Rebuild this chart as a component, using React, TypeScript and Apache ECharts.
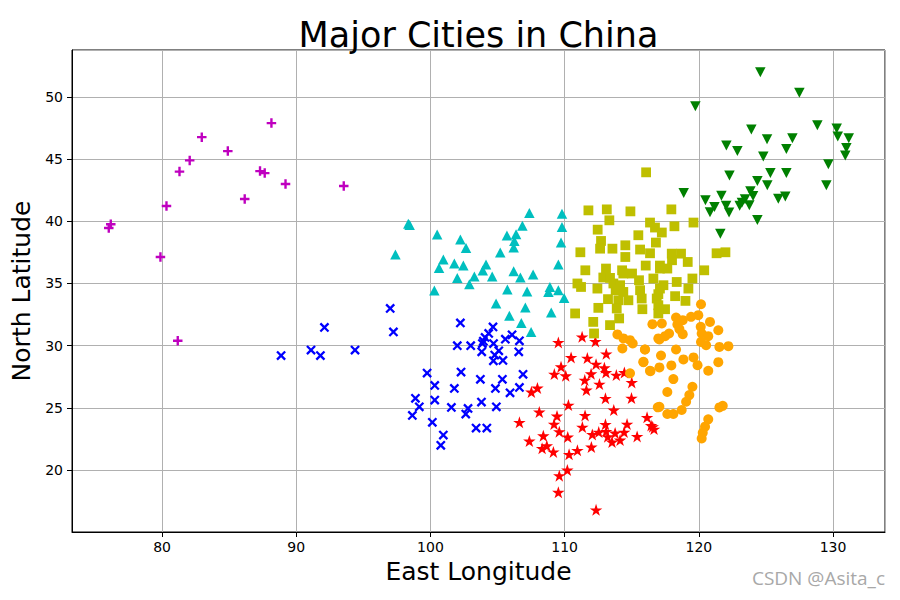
import { useEffect, useRef } from "react";
import * as echarts from "echarts";

const titleText = "Major Cities in China";
const xName = "East Longitude";
const yName = "North Latitude";
const watermark = "CSDN @Asita_c";

// magenta "+" (north-west)
const groupPlus: number[][] = [
  [88.15, 47.9], [82.96, 46.77], [84.9, 45.65], [82.06, 44.9], [81.3, 44.0],
  [87.3, 44.04], [87.65, 43.88], [89.2, 43.0], [93.54, 42.84], [86.16, 41.8],
  [80.33, 41.23], [76.18, 39.76], [76.03, 39.46], [79.88, 37.13], [81.17, 30.39],
];

// cyan triangles up
const groupTriUp: number[][] = [
  [98.35, 39.8], [98.45, 39.7], [97.39, 37.33], [100.5, 38.93], [102.23, 38.53],
  [102.65, 37.86], [100.96, 36.93], [100.64, 36.25], [101.78, 36.6], [102.45, 36.44],
  [102.0, 35.45], [102.9, 34.94], [103.27, 35.56], [104.14, 36.52], [103.9, 36.04],
  [104.6, 35.56], [105.2, 37.49], [105.7, 38.85], [106.38, 38.96], [106.25, 38.42],
  [106.2, 37.89], [106.85, 39.65], [107.37, 40.67], [109.8, 40.6], [109.8, 39.54],
  [109.73, 38.29], [109.53, 36.52], [106.2, 35.98], [106.7, 35.48], [107.65, 35.72],
  [100.29, 34.43], [105.73, 34.51], [107.2, 34.35], [108.9, 34.72], [108.79, 34.32],
  [109.53, 34.46], [109.96, 33.84], [104.89, 33.39], [107.07, 33.07], [109.0, 32.67],
  [105.88, 32.4], [106.77, 31.83], [107.5, 31.1],
];

// blue "x" (south-west)
const groupCross: number[][] = [
  [92.1, 31.46], [88.87, 29.2], [91.1, 29.64], [91.8, 29.2], [94.38, 29.64],
  [97.0, 32.99], [97.24, 31.1], [102.23, 31.83], [104.66, 31.5], [104.34, 30.98],
  [104.07, 30.66], [103.94, 30.36], [102.0, 30.0], [103.0, 30.0], [103.87, 30.17],
  [104.7, 30.17], [105.58, 30.52], [106.08, 30.87], [106.63, 30.39], [106.58, 29.5],
  [103.82, 29.5], [105.09, 29.58], [104.79, 29.24], [104.69, 28.78], [105.4, 28.81],
  [99.75, 27.79], [102.28, 27.87], [106.9, 27.69], [103.72, 27.29], [105.36, 27.29],
  [100.32, 26.8], [101.78, 26.56], [104.84, 26.56], [106.63, 26.64], [105.93, 26.21],
  [98.88, 25.76], [100.32, 25.62], [103.8, 25.46], [99.17, 25.08], [101.56, 25.03],
  [102.8, 24.95], [104.91, 25.08], [102.63, 24.5], [98.65, 24.39], [100.14, 23.83],
  [103.4, 23.37], [104.2, 23.37], [100.96, 22.81], [100.77, 21.98],
];

// red stars (south)
const groupStar: number[][] = [
  [111.3, 30.71], [112.29, 30.34], [109.53, 30.26], [110.48, 29.05], [111.69, 29.0],
  [113.1, 29.34], [112.34, 28.51], [112.96, 28.22], [113.08, 27.84], [113.85, 27.63],
  [114.45, 27.84], [109.73, 28.3], [109.23, 27.71], [110.08, 27.58], [111.97, 27.74],
  [111.5, 27.23], [112.59, 26.91], [115.0, 27.04], [111.62, 26.43], [107.97, 26.59],
  [107.52, 26.27], [113.04, 25.76], [114.98, 25.78], [110.28, 25.22], [108.11, 24.66],
  [109.43, 24.34], [111.52, 24.39], [113.66, 24.82], [116.14, 24.23], [114.65, 23.69],
  [116.44, 23.58], [116.66, 23.29], [106.63, 23.83], [109.21, 23.69], [109.6, 23.08],
  [111.32, 23.45], [108.41, 22.75], [110.23, 22.65], [112.06, 22.86], [112.54, 23.05],
  [113.04, 23.67], [113.09, 23.1], [113.21, 22.68], [113.53, 22.25], [113.76, 22.97],
  [114.13, 22.41], [114.43, 23.05], [115.4, 22.7], [107.37, 22.33], [108.67, 21.95],
  [108.32, 21.74], [109.16, 21.45], [110.95, 21.58], [110.33, 21.26], [111.99, 21.85],
  [110.2, 20.0], [109.6, 19.54], [109.53, 18.21], [112.34, 16.79], [116.56, 23.48],
];

// olive squares (north)
const groupSquare: number[][] = [
  [111.77, 40.88], [113.14, 40.96], [113.33, 40.08], [114.9, 40.8], [117.95, 40.96],
  [112.46, 39.33], [116.36, 39.9], [116.73, 39.5], [117.24, 39.1], [118.18, 39.6],
  [119.6, 39.9], [115.49, 38.88], [112.71, 38.42], [114.52, 38.07], [116.8, 38.29],
  [112.64, 37.8], [113.56, 37.8], [115.62, 37.73], [111.17, 37.51], [116.36, 37.43],
  [117.98, 37.4], [118.67, 37.4], [114.52, 37.13], [119.17, 36.73], [118.0, 36.87],
  [116.04, 36.44], [113.08, 36.2], [111.54, 36.06], [114.28, 36.06], [117.1, 36.44],
  [117.1, 36.2], [117.65, 36.2], [120.4, 36.06], [115.02, 35.8], [114.37, 35.8],
  [112.88, 35.48], [113.38, 35.45], [115.54, 35.26], [116.61, 35.4], [118.35, 35.12],
  [119.52, 35.4], [110.95, 35.0], [111.22, 34.72], [113.63, 35.0], [114.13, 34.86],
  [112.44, 34.59], [117.36, 34.86], [117.1, 34.59], [119.22, 34.59], [113.8, 34.46],
  [115.62, 34.46], [114.37, 34.32], [116.98, 34.14], [118.23, 33.98], [113.23, 33.74],
  [114.0, 33.65], [114.75, 33.65], [115.74, 33.79], [116.86, 33.79], [119.0, 33.6],
  [112.51, 33.04], [113.88, 32.99], [115.79, 32.93], [116.98, 33.25], [117.48, 32.93],
  [110.78, 32.59], [116.98, 32.59], [114.06, 32.19], [112.13, 31.91], [113.38, 31.65],
  [112.19, 30.98], [116.07, 43.94], [121.32, 37.43], [121.98, 37.51],
];

// orange circles (east)
const groupCircle: number[][] = [
  [113.93, 30.9], [114.38, 30.58], [114.87, 30.44], [115.07, 30.17], [114.3, 29.77],
  [115.98, 29.69], [115.87, 28.67], [116.39, 27.95], [114.87, 27.77], [116.94, 25.04],
  [116.98, 30.58], [120.16, 33.33], [118.3, 32.26], [118.8, 32.05], [119.42, 32.32],
  [119.96, 32.45], [120.83, 31.91], [121.45, 31.24], [116.54, 31.73], [117.24, 31.78],
  [118.4, 31.7], [118.55, 31.33], [118.8, 30.92], [117.78, 30.98], [117.48, 30.76],
  [117.06, 30.5], [120.14, 31.51], [120.21, 30.98], [120.7, 30.76], [120.16, 30.3],
  [120.54, 30.04], [121.53, 29.9], [122.2, 29.96], [115.99, 29.69], [118.3, 29.69],
  [117.18, 29.21], [118.85, 28.89], [119.6, 29.05], [115.87, 28.7], [119.9, 28.43],
  [121.45, 28.67], [117.06, 28.25], [117.95, 28.41], [116.36, 27.98], [120.7, 27.98],
  [118.1, 27.31], [119.52, 26.69], [117.65, 26.27], [119.29, 26.02], [119.05, 25.49],
  [117.06, 25.08], [121.53, 25.03], [121.78, 25.16], [117.65, 24.5], [118.1, 24.5],
  [118.72, 24.82], [120.7, 24.07], [120.46, 23.48], [120.29, 23.0], [120.21, 22.54],
];

// green triangles down (north-east)
const groupTriDown: number[][] = [
  [124.58, 52.0], [127.49, 50.34], [119.74, 49.26], [128.83, 47.73], [130.27, 47.47],
  [130.35, 46.83], [131.17, 46.69], [123.91, 47.39], [125.08, 46.61], [126.97, 46.69],
  [122.05, 46.1], [122.87, 45.65], [126.52, 45.81], [130.99, 45.89], [130.91, 45.3],
  [124.8, 45.22], [129.65, 44.6], [125.33, 43.88], [126.52, 43.88], [122.28, 43.69],
  [124.36, 43.24], [125.1, 42.9], [129.5, 42.9], [118.87, 42.28], [123.84, 42.41],
  [124.04, 42.03], [120.49, 41.69], [121.68, 42.06], [125.92, 41.82], [126.44, 42.0],
  [123.44, 41.77], [121.16, 41.15], [120.83, 40.72], [122.03, 41.26], [122.25, 40.7],
  [123.04, 41.26], [123.21, 41.5], [123.76, 41.29], [124.36, 40.11], [121.6, 39.0],
];

const xRange = [73.29, 133.87];
const yRange = [15.01, 53.78];

const PLUS = "path://M3.75,0H6.25V3.75H10V6.25H6.25V10H3.75V6.25H0V3.75H3.75Z";
const CROSS = "path://M4,0H6V4H10V6H6V10H4V6H0V4H4Z";
const STAR =
  "path://M50,0L61.23,34.55L97.55,34.55L68.17,55.9L79.39,90.45L50,69.1L20.61,90.45L31.83,55.9L2.45,34.55L38.77,34.55Z";

const FONT = "DejaVu Sans";

export default function App() {
  const ref = useRef<HTMLDivElement>(null);
  useEffect(() => {
    const chart = echarts.init(ref.current!, null, { renderer: "svg" });
    const mk = (data: number[][], color: string, symbol: string, size: any, rotate = 0) => ({
      type: "scatter",
      data,
      symbol,
      symbolSize: size,
      symbolRotate: rotate,
      itemStyle: { color, opacity: 1 },
      emphasis: { disabled: true },
      silent: true,
    });
    chart.setOption({
      animation: false,
      title: {
        text: titleText,
        left: 473.5,
        textAlign: "center",
        top: 12,
        textStyle: { fontFamily: FONT, fontSize: 35, fontWeight: "normal", color: "#000" },
      },
      grid: {
        left: 72,
        right: 15,
        top: 50,
        bottom: 68,
        show: true,
        borderColor: "#000",
        borderWidth: 1,
        containLabel: false,
      },
      xAxis: {
        type: "value",
        min: xRange[0],
        max: xRange[1],
        minInterval: 10,
        maxInterval: 10,
        splitNumber: 6,
        name: xName,
        nameLocation: "middle",
        nameGap: 26,
        nameTextStyle: { fontFamily: FONT, fontSize: 25, color: "#000" },
        axisLine: { show: true, onZero: false, lineStyle: { color: "#000", width: 1 } },
        axisTick: { show: true, inside: false, length: 5, lineStyle: { color: "#000" } },
        axisLabel: {
          show: true,
          margin: 8,
          fontFamily: FONT,
          fontSize: 14,
          color: "#000",
          showMinLabel: false,
          showMaxLabel: false,
        },
        splitLine: { show: true, lineStyle: { color: "#b0b0b0", width: 1 } },
      },
      yAxis: {
        type: "value",
        min: yRange[0],
        max: yRange[1],
        minInterval: 5,
        maxInterval: 5,
        splitNumber: 8,
        name: yName,
        nameLocation: "middle",
        nameGap: 31,
        nameTextStyle: { fontFamily: FONT, fontSize: 25, color: "#000" },
        axisLine: { show: true, onZero: false, lineStyle: { color: "#000", width: 1 } },
        axisTick: { show: true, inside: false, length: 5, lineStyle: { color: "#000" } },
        axisLabel: {
          show: true,
          margin: 9,
          fontFamily: FONT,
          fontSize: 14,
          color: "#000",
          showMinLabel: false,
          showMaxLabel: false,
        },
        splitLine: { show: true, lineStyle: { color: "#b0b0b0", width: 1 } },
      },
      graphic: [
        {
          type: "text",
          right: 15,
          top: 568,
          style: {
            text: watermark,
            fill: "#a8a8a8",
            font: '19px "Open Sans"',
          },
        },
      ],
      series: [
        mk(groupPlus, "#bf00bf", PLUS, 9.5),
        mk(groupTriUp, "#00bfbf", "triangle", [10.5, 10]),
        mk(groupCross, "#0000ff", CROSS, 11.5, 45),
        mk(groupStar, "#ff0000", STAR, [12.5, 12]),
        mk(groupSquare, "#bfbf00", "rect", 9.8),
        mk(groupCircle, "#ffa500", "circle", 10),
        mk(groupTriDown, "#008000", "triangle", [10.5, 10], 180),
      ],
    });
    return () => chart.dispose();
  }, []);
  return (
    <div
      ref={ref}
      style={{ width: 900, height: 600, position: "absolute", left: 0, top: 0, background: "#fff" }}
    />
  );
}
